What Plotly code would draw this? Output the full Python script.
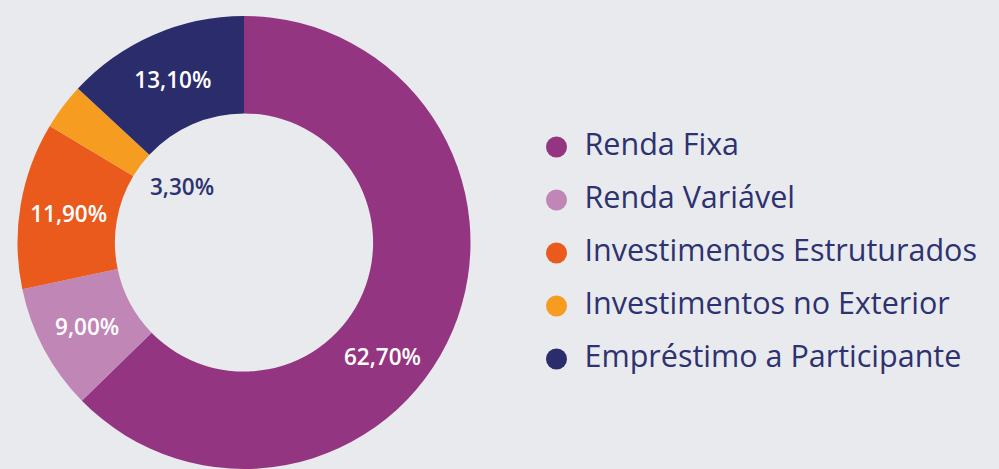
import plotly.graph_objects as go

categories = ["Renda Fixa", "Renda Variável", "Investimentos Estruturados",
              "Investimentos no Exterior", "Empréstimo a Participante"]
values = [62.70, 9.00, 11.90, 3.30, 13.10]
colors = ["#943581", "#c086b6", "#e95a1c", "#f69c21", "#2a2c6b"]

value_text = [f"{v:.2f}%".replace(".", ",") for v in values]

BG = "#e9eaee"
NAVY = "#2d3270"
FONT = "Open Sans"
LBL = 22.5

fig = go.Figure()

positions = ["none", "inside", "inside", "none", "inside"]
fig.add_trace(go.Pie(
    labels=categories, values=values, text=value_text,
    texttemplate="%{text}", textposition=positions,
    insidetextorientation="horizontal",
    textfont=dict(color="white", size=LBL, family=FONT, weight=600),
    marker=dict(colors=colors, line=dict(width=0)),
    hole=0.57, sort=False, direction="clockwise", rotation=0,
    domain=dict(x=[17/999, 471/999], y=[0, 1]),
    showlegend=False, hoverinfo="label+text",
))

# labels placed by hand-tuned layout positions
fig.add_annotation(x=181.5/999, y=(469-177)/469, xref="paper", yref="paper",
                   xanchor="center", yanchor="middle",
                   text=value_text[3], showarrow=False,
                   font=dict(color=NAVY, size=LBL, family=FONT, weight=600))
fig.add_annotation(x=382/999, y=(469-353)/469, xref="paper", yref="paper",
                   xanchor="center", yanchor="middle",
                   text=value_text[0], showarrow=False,
                   font=dict(color="white", size=LBL, family=FONT, weight=600))

# custom legend with circular markers
idx = list(range(len(categories)))
fig.add_trace(go.Scatter(x=[0]*len(idx), y=idx, mode="markers",
                         marker=dict(size=21, color=colors, line=dict(width=0)),
                         showlegend=False, hoverinfo="skip"))
fig.add_trace(go.Scatter(x=[28]*len(idx), y=idx, mode="text", text=categories,
                         textposition="middle right",
                         textfont=dict(size=30.5, color=NAVY, family=FONT),
                         showlegend=False, hoverinfo="skip"))

fig.update_xaxes(range=[-556.5, 442.5], visible=False, fixedrange=True)
fig.update_yaxes(range=[6.0755, -2.4717], visible=False, fixedrange=True)

fig.update_layout(
    width=999, height=469,
    margin=dict(l=0, r=0, t=16, b=0, pad=0),
    paper_bgcolor=BG, plot_bgcolor=BG,
    separators=",.",
    font=dict(family=FONT, color=NAVY),
)

fig.write_html("out.html", config={"displayModeBar": False},
               post_script="document.body.style.margin='0';document.body.style.overflow='hidden';")
